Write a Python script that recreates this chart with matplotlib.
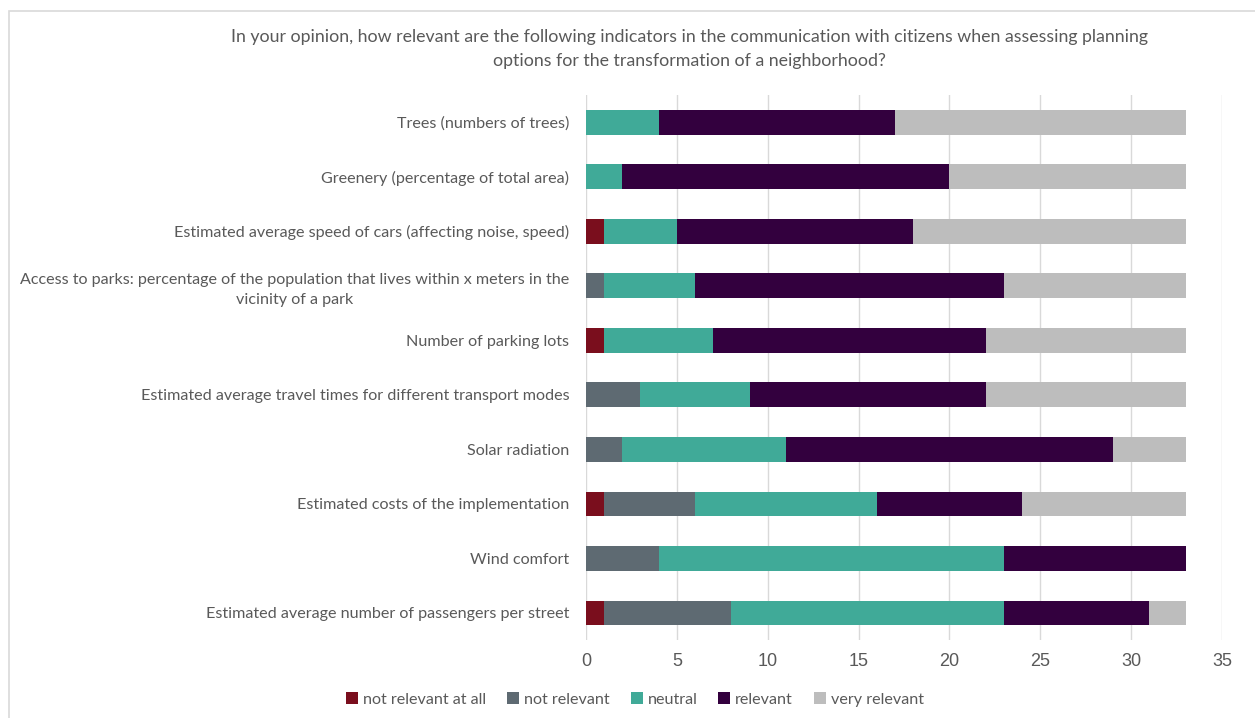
import matplotlib
matplotlib.use('Agg')

import matplotlib.pyplot as plt
import numpy as np
from matplotlib.patches import Rectangle

# Survey answers per indicator (number of respondents)
indicators = [
    'Trees (numbers of trees)',
    'Greenery (percentage of total area)',
    'Estimated average speed of cars (affecting noise, speed)',
    'Access to parks: percentage of the population that lives within x meters in the\nvicinity of a park',
    'Number of parking lots',
    'Estimated average travel times for different transport modes',
    'Solar radiation',
    'Estimated costs of the implementation',
    'Wind comfort',
    'Estimated average number of passengers per street',
]
not_relevant_at_all = [0, 0, 1, 0, 1, 0, 0, 1, 0, 1]
not_relevant = [0, 0, 0, 1, 0, 3, 2, 5, 4, 7]
neutral = [4, 2, 4, 5, 6, 6, 9, 10, 19, 15]
relevant = [13, 18, 13, 17, 15, 13, 18, 8, 10, 8]
very_relevant = [16, 13, 15, 10, 11, 11, 4, 9, 0, 2]

answer_labels = ['not relevant at all', 'not relevant', 'neutral', 'relevant', 'very relevant']
answer_colors = ['#7A0E1D', '#5E6A72', '#40AA98', '#33003E', '#BDBDBD']

title = ('In your opinion, how relevant are the following indicators in the communication with citizens when assessing planning\n'
         'options for the transformation of a neighborhood?')

text_color = '#595959'
label_font = 'Lato'

fig = plt.figure(figsize=(12.55, 7.18), dpi=100)
ax = fig.add_axes([0.4669, 0.1086, 0.5068, 0.7591])

series = [not_relevant_at_all, not_relevant, neutral, relevant, very_relevant]
ypos = np.arange(len(indicators))
left = np.zeros(len(indicators))
for vals, name, col in zip(series, answer_labels, answer_colors):
    vals = np.array(vals, dtype=float)
    ax.barh(ypos, vals, left=left, height=0.45, color=col, label=name, zorder=3)
    left += vals

ax.set_xlim(0, 35)
ax.set_ylim(len(indicators) - 0.5, -0.5)
ax.set_xticks(range(0, 36, 5))
ax.set_yticks(ypos)
ax.set_yticklabels(indicators, fontsize=11.6, color=text_color, family=label_font,
                   multialignment='center', linespacing=1.55)
ax.tick_params(axis='x', labelsize=13, colors=text_color, length=0, pad=9)
ax.tick_params(axis='y', length=0, pad=12)
for lbl in ax.get_xticklabels():
    lbl.set_family('Liberation Sans')
ax.grid(axis='x', color='#D9D9D9', linewidth=1, zorder=0)
for s in ax.spines.values():
    s.set_visible(False)

fig.text(0.5496, 0.932, title, ha='center', va='center', fontsize=12.8,
         color=text_color, family=label_font, linespacing=1.6)

handles, labels = ax.get_legend_handles_labels()
fig.legend(handles, labels, loc='center', bbox_to_anchor=(0.506, 0.026), ncol=5,
           frameon=False, handlelength=0.75, handleheight=0.75, handletextpad=0.3,
           columnspacing=1.3, prop={'family': label_font, 'size': 11.6},
           labelcolor=text_color)

# thin frame around the chart area
fig.patches.append(Rectangle((9 / 1255, -0.01), 1.0, 1 - 11 / 718 + 0.01,
                             transform=fig.transFigure, fill=False,
                             edgecolor='#D9D9D9', linewidth=1.2))

fig.savefig('out.png', dpi=100)
